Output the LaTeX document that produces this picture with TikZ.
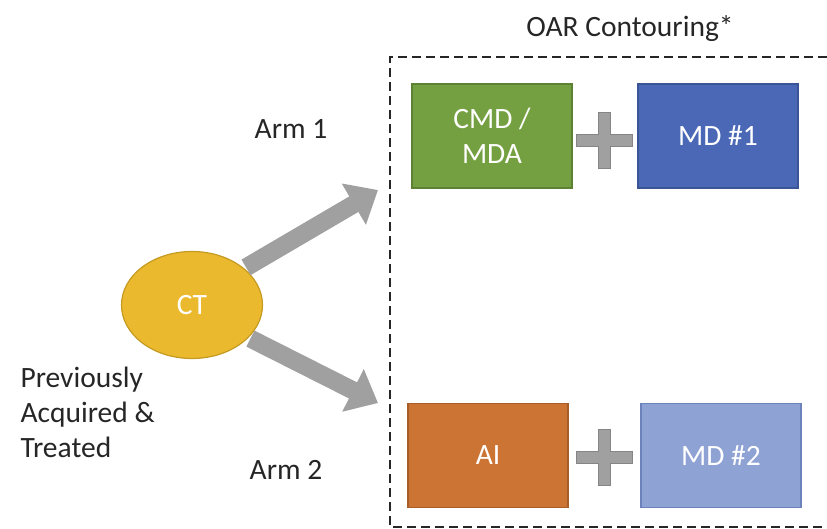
\documentclass[tikz,border=0pt]{standalone}
\usepackage{fontspec}
\setmainfont{Carlito}
\usetikzlibrary{shapes.geometric,arrows.meta}

\definecolor{textgray}{HTML}{262626}
\definecolor{armgreen}{HTML}{75A042}
\definecolor{greenedge}{HTML}{5D8234}
\definecolor{armblue}{HTML}{4A68B6}
\definecolor{blueedge}{HTML}{3A5596}
\definecolor{armorange}{HTML}{CC7433}
\definecolor{orangeedge}{HTML}{A65D27}
\definecolor{armlight}{HTML}{8FA2D4}
\definecolor{lightedge}{HTML}{6C82BA}
\definecolor{ctgold}{HTML}{EBB92D}
\definecolor{ctedge}{HTML}{C49A22}
\definecolor{flowgray}{HTML}{A0A0A0}
\definecolor{plusedge}{HTML}{858585}

\begin{document}
\begin{tikzpicture}[x=1pt, y=-1pt,
    every node/.style = {font=\fontsize{29.5}{35}\selectfont, text=textgray},
    contour/.style = {rectangle, draw, line width=1.2, minimum width=160, minimum height=104, text=white, align=center},
    scan/.style = {ellipse, draw=ctedge, fill=ctgold, line width=1.2, minimum width=141, minimum height=107, text=white},
    armlabel/.style = {anchor=base},
    flow/.style = {draw=flowgray, line width=18, -{Triangle[length=28pt,width=46pt]}},
    plussign/.style = {fill=flowgray, draw=plusedge, line width=1},
    frame/.style = {draw=textgray, line width=1.5, dash pattern=on 9pt off 5pt}]
   \useasboundingbox (0,0) rectangle (827,529);

   % dashed contouring frame, open to the right
   \draw[frame] (827,57) -- (390,57) -- (390,527) -- (827,527);

   \node[armlabel] (title) at (630,37)  {OAR Contouring*};
   \node[armlabel] (arm1)  at (291,139) {Arm 1};
   \node[armlabel] (arm2)  at (286,479) {Arm 2};
   \node[anchor=base west, align=left] (prior) at (17,457) {Previously\\Acquired \&\\Treated};

   \node[scan] (ct) at (192,305) {CT};

   \node[contour, fill=armgreen,  draw=greenedge]  (cmd) at (492,136)   {CMD /\\MDA};
   \node[contour, fill=armblue,   draw=blueedge]   (md1) at (718,136)   {MD \#1};
   \node[contour, fill=armorange, draw=orangeedge] (ai)  at (488,455.5) {AI};
   \node[contour, fill=armlight,  draw=lightedge]  (md2) at (721,455.5) {MD \#2};

   \coordinate (end1) at (378,190);
   \coordinate (end2) at (378,403);
   \draw[flow, shorten <=2pt] (ct.35)  -- (end1);
   \draw[flow, shorten <=2pt] (ct.-30) -- (end2);

   \filldraw[plussign, shift={(604,141)}] (-6,-28) -- (6,-28) -- (6,-6) -- (28,-6) -- (28,6) -- (6,6)
      -- (6,28) -- (-6,28) -- (-6,6) -- (-28,6) -- (-28,-6) -- (-6,-6) -- cycle;
   \filldraw[plussign, shift={(604,457)}] (-6,-28) -- (6,-28) -- (6,-6) -- (28,-6) -- (28,6) -- (6,6)
      -- (6,28) -- (-6,28) -- (-6,6) -- (-28,6) -- (-28,-6) -- (-6,-6) -- cycle;

 \end{tikzpicture}
\end{document}
